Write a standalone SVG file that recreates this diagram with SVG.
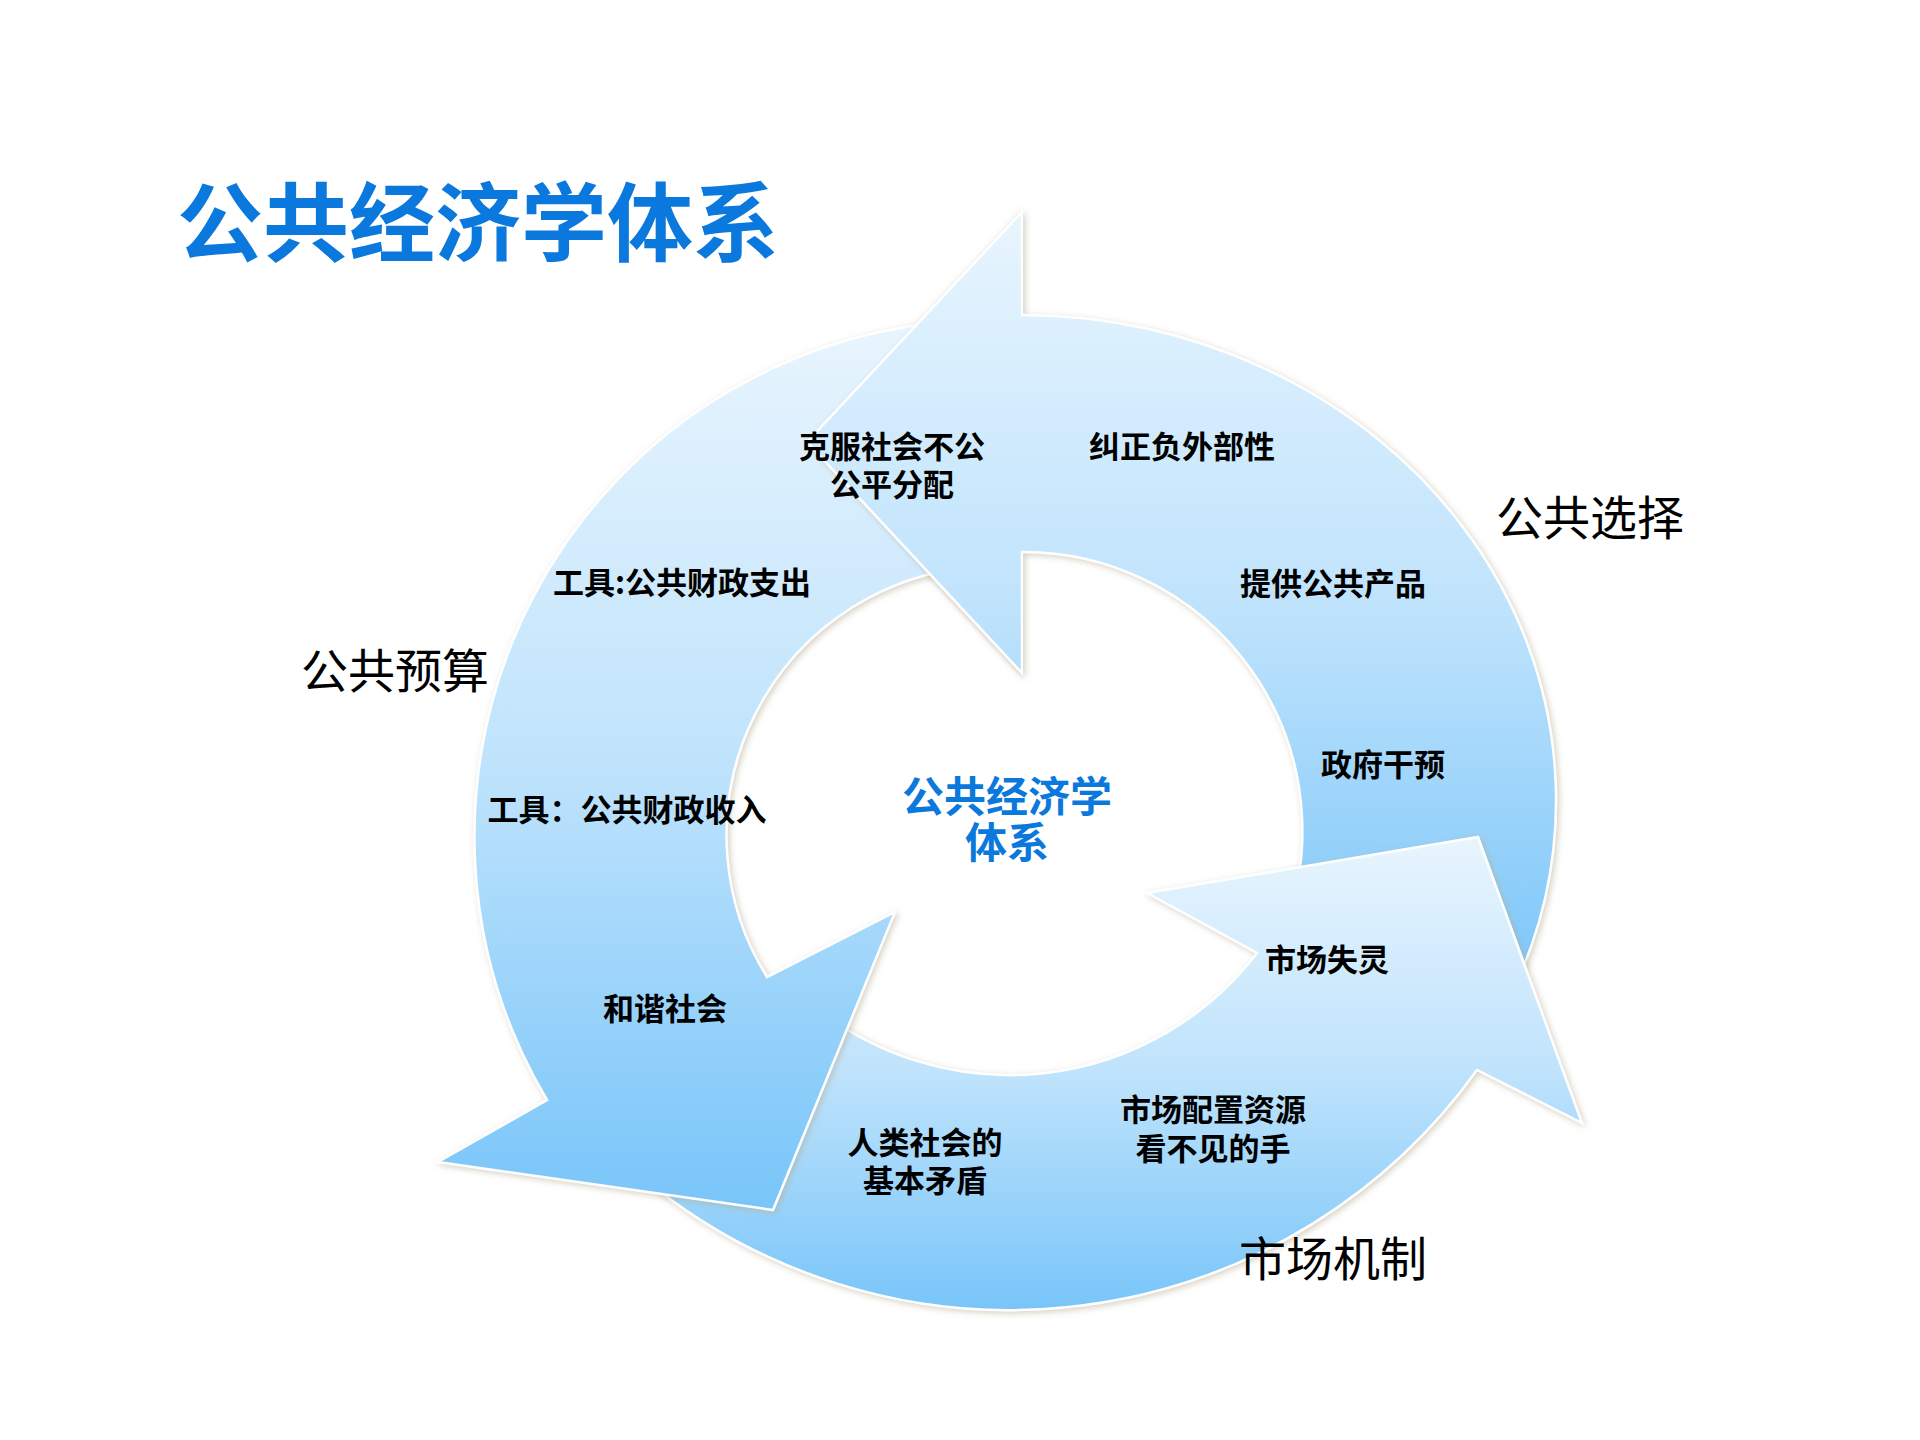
<svg xmlns="http://www.w3.org/2000/svg" xmlns:xlink="http://www.w3.org/1999/xlink" width="1920" height="1440" viewBox="0 0 1920 1440">
<defs>
<linearGradient id="blueGrad" x1="0" y1="0" x2="0" y2="1">
<stop offset="0" stop-color="#e8f5fe"/>
<stop offset="0.5" stop-color="#bfe3fc"/>
<stop offset="1" stop-color="#78c5f9"/>
</linearGradient>
<filter id="shadow" x="-10%" y="-10%" width="120%" height="120%">
<feDropShadow dx="2" dy="2" stdDeviation="3" flood-color="#b5aa92" flood-opacity="0.55"/>
</filter>
<clipPath id="clipAhead"><rect x="770" y="190" width="254" height="500"/></clipPath>
<style>
.arrow{fill:url(#blueGrad);stroke:#ffffff;stroke-width:2.5;stroke-linejoin:miter;filter:url(#shadow)}
.lbl{font-family:"Noto Sans CJK SC","Noto Sans",sans-serif;font-weight:700;font-size:31px;fill:#000;text-anchor:middle}
.big{font-family:"Noto Sans CJK SC","Noto Sans",sans-serif;font-weight:400;font-size:47px;fill:#000;text-anchor:middle}
.blue{font-family:"Noto Sans CJK SC","Noto Sans",sans-serif;font-weight:700;fill:#0a78dc;text-anchor:middle}
</style>
</defs>
<rect width="1920" height="1440" fill="#ffffff"/>
<g id="title"><text class="blue" x="478" y="255" font-size="86">公共经济学体系</text></g>
<g id="connectors">
<g id="arrow-choice"><path id="arrowA" class="arrow" d="M 1022 315 A 536 485 0 0 1 1505.8 1005 L 1285.7 926 A 279 279 0 0 0 1022 552 L 1022 673 L 807 442 L 1022 212 Z"/></g>
<g id="arrow-market"><path id="arrowC" class="arrow" d="M 640 1175.5 A 575 575 0 0 0 1477 1070 L 1582 1123 L 1478 837 L 1147 893 L 1257 953 A 312 312 0 0 1 810 1003 Z"/></g>
<g id="arrow-budget"><path id="arrowB" class="arrow" d="M 960 321 A 516 516 0 0 0 547 1100 L 438 1162 L 773 1210 L 895 912 L 767 977 A 269 269 0 0 1 973 567 Z"/></g>
<use xlink:href="#arrowA" href="#arrowA" clip-path="url(#clipAhead)"/>
</g>
<g id="node-center"><text class="blue" x="1007" y="812" font-size="42">公共经济学</text><text class="blue" x="1007" y="858" font-size="42">体系</text></g>
<g id="node-choice">
<text class="big" x="1590" y="535">公共选择</text>
<text class="lbl" x="892" y="458">克服社会不公</text>
<text class="lbl" x="892" y="496">公平分配</text>
<text class="lbl" x="1182" y="458">纠正负外部性</text>
<text class="lbl" x="1333" y="595">提供公共产品</text>
<text class="lbl" x="1383" y="776">政府干预</text>
</g>
<g id="node-budget">
<text class="big" x="395" y="688">公共预算</text>
<text class="lbl" x="682" y="594">工具:公共财政支出</text>
<text class="lbl" x="627" y="821">工具：公共财政收入</text>
<text class="lbl" x="665" y="1020">和谐社会</text>
</g>
<g id="node-market">
<text class="big" x="1333" y="1276">市场机制</text>
<text class="lbl" x="925" y="1154">人类社会的</text>
<text class="lbl" x="925" y="1192">基本矛盾</text>
<text class="lbl" x="1327" y="971">市场失灵</text>
<text class="lbl" x="1213" y="1121">市场配置资源</text>
<text class="lbl" x="1213" y="1160">看不见的手</text>
</g>
</svg>
